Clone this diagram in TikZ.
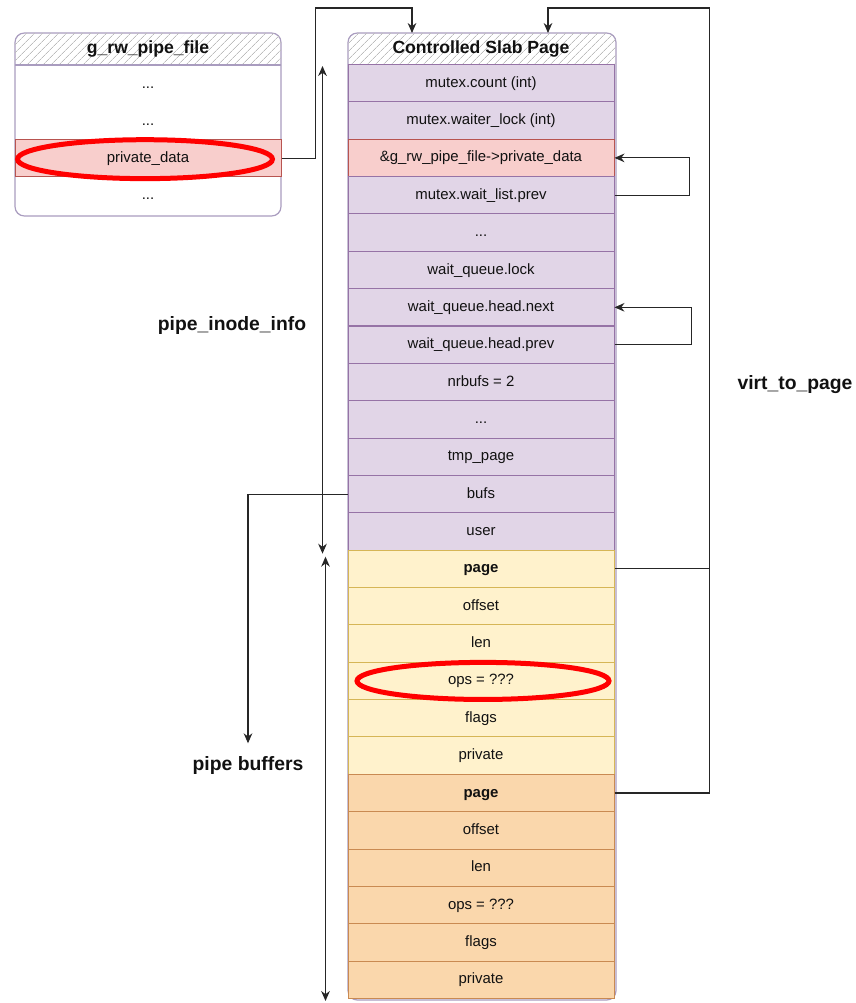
\documentclass[tikz,border=0pt]{standalone}
\usepackage{fontspec}
\setmainfont{Liberation Sans}
\usetikzlibrary{arrows.meta,calc,patterns.meta}
\definecolor{ink}{HTML}{111111}
\definecolor{slabfill}{HTML}{E1D5E7}
\definecolor{slabline}{HTML}{9673A6}
\definecolor{hitfill}{HTML}{F8CECC}
\definecolor{hitline}{HTML}{B85450}
\definecolor{buffill}{HTML}{FFF2CC}
\definecolor{bufline}{HTML}{D6B656}
\definecolor{nextfill}{HTML}{FAD7AC}
\definecolor{nextline}{HTML}{C98A52}
\definecolor{framecol}{HTML}{A99CBF}
\definecolor{hatch}{HTML}{BDBDBD}
\definecolor{ringred}{HTML}{FF0000}
\newcommand{\gapdots}{...}

\begin{document}
\begin{tikzpicture}[x=0.75pt,y=-0.75pt,
  >={Stealth[length=7.5pt,width=6.5pt]},
  font=\fontsize{11.2}{13}\selectfont,
  link/.style={line width=0.8pt,draw=black!85},
  arrow/.style={link,->},
  dim/.style={link,<->},
  row/.style={minimum width=199.5pt,minimum height=28pt,anchor=north,
              inner sep=0pt,line width=0.75pt,text=ink,
              text height=1.6ex,text depth=0.45ex},
  slab/.style={row,draw=slabline,fill=slabfill},
  hit/.style={row,draw=hitline,fill=hitfill},
  buf/.style={row,draw=bufline,fill=buffill},
  nextbuf/.style={row,draw=nextline,fill=nextfill},
  plain/.style={row,draw=none},
  frame/.style={draw=framecol,line width=0.9pt,rounded corners=7pt},
  headrow/.style={pattern={Lines[angle=45,distance=4pt,line width=0.5pt]},
                  pattern color=hatch},
  head/.style={font=\fontsize{13.2}{16}\selectfont\bfseries,text=ink,
               minimum height=23.25pt,inner sep=0pt,anchor=north},
  label/.style={font=\fontsize{14.5}{17}\selectfont\bfseries,text=ink},
  ring/.style={draw=ringred,line width=3.75pt}
]
\useasboundingbox (0,0) rectangle (856,1003);

% g_rw_pipe_file
\draw[frame,fill=white] (15,33) rectangle (281,216);
\begin{scope}
  \clip[rounded corners=7pt] (15,33) rectangle (281,216);
  \fill[headrow] (15,33) rectangle (281,65);
\end{scope}
\draw[draw=framecol,line width=0.9pt] (15,65) -- (281,65);
\node[head,minimum width=199.5pt] (filehead) at (148,33) {g\_rw\_pipe\_file};
\node[plain] (f1) at (148,65) {\gapdots};
\node[plain] (f2) at (148,102) {\gapdots};
\node[hit] (pd) at (148,139) {private\_data};
\node[plain] (f4) at (148,176) {\gapdots};

% Controlled slab page
\draw[frame,fill=white] (348,33) rectangle (616,1000);
\begin{scope}
  \clip[rounded corners=7pt] (348,33) rectangle (616,1000);
  \fill[headrow] (348,33) rectangle (616,64);
\end{scope}
\node[head,minimum width=199.5pt] (slabhead) at (481,33) {Controlled Slab Page};

\foreach \sty/\txt [count=\i] in {
  slab/mutex.count (int),
  slab/mutex.waiter\_lock (int),
  hit/\&g\_rw\_pipe\_file->private\_data,
  slab/mutex.wait\_list.prev,
  slab/\gapdots,
  slab/wait\_queue.lock,
  slab/wait\_queue.head.next,
  slab/wait\_queue.head.prev,
  slab/nrbufs = 2,
  slab/\gapdots,
  slab/tmp\_page,
  slab/bufs,
  slab/user,
  buf/\textbf{page},
  buf/offset,
  buf/len,
  buf/ops = ???,
  buf/flags,
  buf/private,
  nextbuf/\textbf{page},
  nextbuf/offset,
  nextbuf/len,
  nextbuf/ops = ???,
  nextbuf/flags,
  nextbuf/private}
  \node[\sty] (r\i) at (481,{64+(\i-1)*37.36}) {\txt};

% Labels
\node[label] (inode) at (232,325) {pipe\_inode\_info};
\node[label] (pb) at (248,765) {pipe buffers};
\node[label] (v2p) at (795,385) {virt\_to\_page};

% Highlights
\draw[ring] ($(pd.center)+(-3,1)$) ellipse [x radius=95.6pt,y radius=14.6pt];
\draw[ring] ($(r17.center)+(2,0)$) ellipse [x radius=94.5pt,y radius=13.9pt];

% Connectors
\draw[arrow] (pd.east) -- ++(34,0) |- ($(slabhead.north)+(-69,-25)$)
  -- ($(slabhead.north)+(-69,0)$);
\draw[link] (r14.east) -- ++(95,0);
\draw[arrow] (r20.east) -- ++(95,0) |- ($(slabhead.north)+(67,-25)$)
  -- ($(slabhead.north)+(67,0)$);
\draw[arrow] (r4.east) -- ++(75,0) |- (r3.east);
\draw[arrow] (r8.east) -- ++(77,0) |- (r7.east);
\draw[arrow] (r12.west) -| ([yshift=6pt]pb.north);

% Extents
\draw[dim] ($(r1.north west)+(-25,2)$) -- ($(r13.south west)+(-25,3)$);
\draw[dim] ($(r14.north west)+(-22,7)$) -- ($(r25.south west)+(-22,2)$);

\end{tikzpicture}
\end{document}
